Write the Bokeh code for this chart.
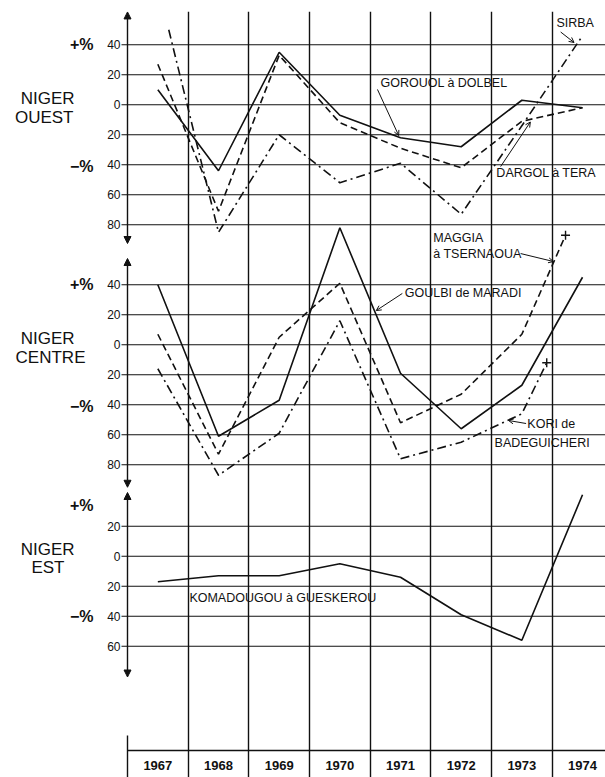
from bokeh.plotting import figure
from bokeh.models import Range1d, FixedTicker, Label, Arrow, NormalHead, OpenHead, LinearAxis
from bokeh.embed import file_html
from bokeh.resources import INLINE

# ---------------- data ----------------
YEARS = [1967, 1968, 1969, 1970, 1971, 1972, 1973, 1974]
YEAR_LABELS = ["1967", "1968", "1969", "1970", "1971", "1972", "1973", "1974"]

# NIGER OUEST (deviation in %)
GOROUOL_X = [1967, 1968, 1969, 1970, 1971, 1972, 1973, 1974]
GOROUOL = [10, -44, 35, -7, -22, -28, 3, -2]
DARGOL_X = [1967, 1968, 1969, 1970, 1971, 1972, 1973, 1974]
DARGOL = [27, -71, 33, -12, -29, -42, -11, -2]
SIRBA_X = [1967.18, 1968, 1969, 1970, 1971, 1972, 1973, 1974]
SIRBA = [50, -85, -20, -52, -39, -73, -14, 46]

# NIGER CENTRE
GOULBI_X = [1967, 1968, 1969, 1970, 1971, 1972, 1973, 1974]
GOULBI = [40, -61, -37, 78, -19, -56, -27, 45]
MAGGIA_X = [1967, 1968, 1969, 1970, 1971, 1972, 1973, 1973.72]
MAGGIA = [7, -73, 5, 41, -52, -33, 7, 73]
KORI_X = [1967, 1968, 1969, 1970, 1971, 1972, 1973, 1973.41]
KORI = [-16, -87, -59, 16, -76, -65, -46, -12]

# NIGER EST
KOMA_X = [1967, 1968, 1969, 1970, 1971, 1972, 1973, 1974]
KOMA = [-17, -13, -13, -5, -14, -39, -56, 41]

TICKS_OUEST = [40, 20, 0, -20, -40, -60, -80]
TICKS_CENTRE = [40, 20, 0, -20, -40, -60, -80]
TICKS_EST = [20, 0, -20, -40, -60]

PANELS = ["ouest", "centre", "est"]
PANEL_WORD = {"ouest": "OUEST", "centre": "CENTRE", "est": "EST"}
PCT_LEVELS = {"ouest": (40, -41), "centre": (40, -41), "est": (34, -40)}

# ---------------- layout ----------------
W, H = 605, 777
B_TOP = 11
PX_PER_UNIT = 1.5
COL_PX = 60.67
AXIS_PX = 127          # screen x of the vertical axis (year 1966.5)
GRID_PX = 121          # horizontal lines start here (tick stub)
BASE_PX = 750          # screen y of the year table line (main coordinate 0)


def xdata(px):
    return 1966.5 + (px - AXIS_PX) / COL_PX


Y_START = -(H - BASE_PX) / PX_PER_UNIT
Y_END = (BASE_PX - B_TOP) / PX_PER_UNIT
X_START = xdata(0)
X_END = xdata(W)
X_AXIS = 1966.5

OFF = {"ouest": 430.5, "centre": 270.5, "est": 129.5}
AXIS_EXT = {"ouest": (-92.5, Y_END - 430.5 - 0.3), "centre": (-95.0, 57.5), "est": (-80.5, 42.5)}

FONT = "Liberation Sans"
INK = "#111111"

p = figure(width=W, height=H, x_range=Range1d(X_START, X_END), y_range=Range1d(Y_START, Y_END),
           output_backend="svg", toolbar_location=None,
           min_border_left=0, min_border_right=0, min_border_top=B_TOP,
           min_border_bottom=0)
p.outline_line_color = None
p.background_fill_color = "white"
p.border_fill_color = "white"

for name, off in OFF.items():
    p.extra_y_ranges[name] = Range1d(Y_START - off, Y_END - off)

# ---- y axis: numbers of the three panels ----
tick_pos, overrides = [], {}
for name, ticks in (("ouest", TICKS_OUEST), ("centre", TICKS_CENTRE), ("est", TICKS_EST)):
    for t in ticks:
        pos = OFF[name] + t
        tick_pos.append(pos)
        overrides[pos] = str(abs(t))
yt = FixedTicker(ticks=tick_pos, minor_ticks=[])
ya = p.yaxis[0]
ya.fixed_location = xdata(GRID_PX)
ya.ticker = yt
ya.major_label_overrides = overrides
ya.axis_line_color = None
ya.major_tick_out = 0
ya.major_tick_in = 0
ya.minor_tick_line_color = None
ya.major_label_standoff = 1
ya.major_label_text_font = FONT
ya.major_label_text_font_size = "12px"
ya.major_label_text_color = INK

p.ygrid.visible = False
# horizontal ruling of each panel, from the tick stub to the right edge
p.segment(x0=[xdata(GRID_PX)] * len(tick_pos), y0=tick_pos,
          x1=[X_END] * len(tick_pos), y1=tick_pos, line_color=INK, line_width=1.2)


# ---- extra left "axes" for +% / -% and the panel names ----
def text_axis(px_right, positions, texts, size, style="normal"):
    ax = LinearAxis(fixed_location=xdata(px_right),
                    ticker=FixedTicker(ticks=positions, minor_ticks=[]),
                    major_label_overrides=dict(zip(positions, texts)),
                    axis_line_color=None, major_tick_line_color=None,
                    minor_tick_line_color=None, major_tick_out=0, major_tick_in=0,
                    major_label_standoff=0, major_label_text_font=FONT,
                    major_label_text_font_size=size, major_label_text_font_style=style,
                    major_label_text_color=INK)
    p.add_layout(ax, "left")


pct_pos, pct_txt = [], []
for name in PANELS:
    hi, lo = PCT_LEVELS[name]
    pct_pos += [OFF[name] + hi, OFF[name] + lo]
    pct_txt += ["+%", "\u2212%"]
text_axis(93, pct_pos, pct_txt, "16px", "bold")

text_axis(74, [OFF[n] + 4.5 for n in PANELS], ["NIGER"] * 3, "17px")
text_axis(73, [OFF["ouest"] - 8.5], [PANEL_WORD["ouest"]], "17px")
text_axis(85, [OFF["centre"] - 8.5], [PANEL_WORD["centre"]], "17px")
text_axis(64, [OFF["est"] - 7.5], [PANEL_WORD["est"]], "17px")

# ---- x axis: the year table ----
boundaries = [y - 0.5 for y in YEARS]
xt = FixedTicker(ticks=YEARS, minor_ticks=[])
xa = p.xaxis[0]
xa.fixed_location = 0
xa.bounds = (X_AXIS, X_END)
xa.ticker = xt
xa.major_label_overrides = {y: lab for y, lab in zip(YEARS, YEAR_LABELS)}
xa.axis_line_color = INK
xa.axis_line_width = 1.6
xa.major_tick_out = 0
xa.major_tick_in = 0
xa.minor_tick_line_color = None
xa.major_label_standoff = 10
xa.major_label_text_font = FONT
xa.major_label_text_font_style = "bold"
xa.major_label_text_font_size = "13px"
xa.major_label_text_color = INK

p.xgrid.ticker = FixedTicker(ticks=boundaries[1:])
p.xgrid.grid_line_color = INK
p.xgrid.grid_line_width = 1.4
p.xgrid.grid_line_alpha = 1

# ---- panel axes with arrows ----
for name, (lo, hi) in AXIS_EXT.items():
    p.add_layout(Arrow(x_start=X_AXIS, y_start=lo, x_end=X_AXIS, y_end=hi,
                       start=NormalHead(size=7, fill_color=INK, line_color=INK),
                       end=NormalHead(size=7, fill_color=INK, line_color=INK),
                       line_color=INK, line_width=1.4, y_range_name=name))
p.add_layout(Arrow(x_start=X_AXIS, y_start=-119.5, x_end=X_AXIS, y_end=Y_START - OFF["est"],
                   end=None, line_color=INK, line_width=1.4, y_range_name="est"))

# ---- series ----
SOLID, DASH, DASHDOT = "solid", "7 4", "9 4 2 4"
LW = 1.6
series = [
    ("ouest", GOROUOL_X, GOROUOL, SOLID),
    ("ouest", DARGOL_X, DARGOL, DASH),
    ("ouest", SIRBA_X, SIRBA, DASHDOT),
    ("centre", GOULBI_X, GOULBI, SOLID),
    ("centre", MAGGIA_X, MAGGIA, DASH),
    ("centre", KORI_X, KORI, DASHDOT),
    ("est", KOMA_X, KOMA, SOLID),
]
for name, xs, ys, dash in series:
    p.line(xs, ys, y_range_name=name, line_color=INK, line_width=LW, line_dash=dash)

p.scatter([MAGGIA_X[-1]], [MAGGIA[-1]], y_range_name="centre", marker="cross",
          size=9, line_color=INK, line_width=1.4)
p.scatter([KORI_X[-1]], [KORI[-1]], y_range_name="centre", marker="cross",
          size=9, line_color=INK, line_width=1.4)


# ---- in-plot series names with leader lines ----
def lab(x, y, text, rng, size="12.5px"):
    p.add_layout(Label(x=x, y=y, text=text, y_range_name=rng, text_font=FONT,
                       text_font_size=size, text_align="left", text_baseline="middle",
                       text_color=INK))


lab(1973.57, 54.5, "SIRBA", "ouest")
lab(1970.67, 14.2, "GOROUOL à DOLBEL", "ouest")
lab(1972.58, -45.8, "DARGOL à TERA", "ouest")
lab(1971.54, 71.5, "MAGGIA", "centre")
lab(1971.54, 60.2, "à TSERNAOUA", "centre")
lab(1971.07, 34.2, "GOULBI de MARADI", "centre")
lab(1973.09, -52.5, "KORI de", "centre")
lab(1972.55, -65.8, "BADEGUICHERI", "centre")
lab(1967.52, -27.5, "KOMADOUGOU à GUESKEROU", "est")

leaders = [
    ("ouest", 1973.64, 48.5, 1973.86, 41.5),
    ("ouest", 1970.62, 10.2, 1970.97, -20.5),
    ("ouest", 1972.65, -41.2, 1973.14, -11.5),
    ("centre", 1972.98, 60.8, 1973.52, 55.5),
    ("centre", 1971.03, 34.2, 1970.60, 22.8),
    ("centre", 1973.07, -52.5, 1972.78, -50.5),
]
for name, xs, ys, xe, ye in leaders:
    p.add_layout(Arrow(x_start=xs, y_start=ys, x_end=xe, y_end=ye,
                       end=OpenHead(size=5, line_color=INK, line_width=1),
                       line_color=INK, line_width=1, y_range_name=name))

open("out.html", "w").write(file_html(p, INLINE))
